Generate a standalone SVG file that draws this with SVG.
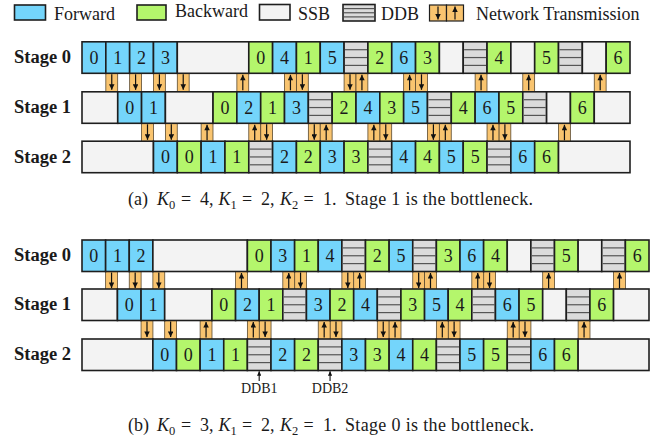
<svg xmlns="http://www.w3.org/2000/svg" xmlns:xlink="http://www.w3.org/1999/xlink" width="668" height="442" viewBox="0 0 668 442">
<style>
.f{fill:#74d5fb;stroke:#1e1e1e;stroke-width:1.6}
.b{fill:#b4f66c;stroke:#1e1e1e;stroke-width:1.6}
.s{fill:#f3f3f3;stroke:#1e1e1e;stroke-width:1.6}
.d{fill:#dbdbdb;stroke:#1e1e1e;stroke-width:1.6}
.dl{stroke:#555;stroke-width:1.2}
text{font-family:'Liberation Serif','Times New Roman','DejaVu Serif',serif}
.n{font-size:18px;text-anchor:middle;fill:#1a1a1a}
.lb{font-size:18.5px;font-weight:bold;fill:#1a1a1a}
.lg{font-size:18px;fill:#1a1a1a}
.cap{font-size:18px;fill:#1a1a1a}
.sm{font-size:14px;text-anchor:middle;fill:#1a1a1a}
.nt{fill:#f9c46f;stroke:#5a4a30;stroke-width:0.8}
.ar{stroke:#111;stroke-width:1.2;fill:none;marker-end:url(#ah)}
.ar2{stroke:#111;stroke-width:1.1;fill:none;marker-end:url(#ah2)}
</style>
<defs>
<marker id="ah" viewBox="0 0 10 10" refX="10" refY="5" markerWidth="6" markerHeight="5.5" markerUnits="userSpaceOnUse" orient="auto"><path d="M0,0 L10,5 L0,10 z" fill="#111"/></marker>
<marker id="ah2" viewBox="0 0 10 10" refX="10" refY="5" markerWidth="5" markerHeight="4.5" markerUnits="userSpaceOnUse" orient="auto"><path d="M0,0 L10,5 L0,10 z" fill="#111"/></marker>
<g id="dn"><rect class="nt" x="0" y="-0.5" width="11.86" height="19.5"/><line class="ar" x1="5.93" y1="1" x2="5.93" y2="16.5"/></g>
<g id="up"><rect class="nt" x="0" y="-0.5" width="11.86" height="19.5"/><line class="ar" x1="5.93" y1="17" x2="5.93" y2="1.5"/></g>
</defs>
<rect width="668" height="442" fill="#ffffff"/>

<!-- Legend -->
<g id="legend">
<rect class="f" x="14.5" y="5" width="31" height="15"/>
<text class="lg" x="54" y="20" font-family="Liberation Serif, serif">Forward</text>
<rect class="b" x="137" y="5" width="29" height="15"/>
<text class="lg" x="175" y="17">Backward</text>
<rect class="s" x="259.5" y="4.5" width="30.5" height="15.5"/>
<text class="lg" x="298" y="20">SSB</text>
<rect class="d" x="343" y="4.5" width="32" height="16.5"/>
<line class="dl" x1="344" y1="8.6" x2="374" y2="8.6"/>
<line class="dl" x1="344" y1="12.75" x2="374" y2="12.75"/>
<line class="dl" x1="344" y1="16.9" x2="374" y2="16.9"/>
<text class="lg" x="381" y="20">DDB</text>
<rect class="nt" x="429.5" y="5" width="17" height="16" style="stroke:#1e1e1e;stroke-width:1.2"/>
<rect class="nt" x="446.5" y="5" width="17" height="16" style="stroke:#1e1e1e;stroke-width:1.2"/>
<line class="ar" x1="438" y1="6.5" x2="438" y2="19.5"/>
<line class="ar" x1="455" y1="19.5" x2="455" y2="6.5"/>
<text class="lg" x="476" y="19.5">Network Transmission</text>
</g>

<!-- Connectors: network transmissions -->
<g id="connectors">
<use href="#dn" xlink:href="#dn" x="105.83" y="73.3"/>
<use href="#dn" xlink:href="#dn" x="129.65" y="73.3"/>
<use href="#dn" xlink:href="#dn" x="153.48" y="73.3"/>
<use href="#dn" xlink:href="#dn" x="177.30" y="73.3"/>
<use href="#dn" xlink:href="#dn" x="296.43" y="73.3"/>
<use href="#dn" xlink:href="#dn" x="344.09" y="73.3"/>
<use href="#dn" xlink:href="#dn" x="415.56" y="73.3"/>
<use href="#up" xlink:href="#up" x="236.87" y="73.3"/>
<use href="#up" xlink:href="#up" x="284.52" y="73.3"/>
<use href="#up" xlink:href="#up" x="356.00" y="73.3"/>
<use href="#up" xlink:href="#up" x="403.65" y="73.3"/>
<use href="#up" xlink:href="#up" x="475.13" y="73.3"/>
<use href="#up" xlink:href="#up" x="522.78" y="73.3"/>
<use href="#up" xlink:href="#up" x="594.26" y="73.3"/>
<use href="#dn" xlink:href="#dn" x="141.57" y="123.3"/>
<use href="#dn" xlink:href="#dn" x="165.39" y="123.3"/>
<use href="#dn" xlink:href="#dn" x="260.70" y="123.3"/>
<use href="#dn" xlink:href="#dn" x="308.35" y="123.3"/>
<use href="#dn" xlink:href="#dn" x="379.83" y="123.3"/>
<use href="#dn" xlink:href="#dn" x="427.48" y="123.3"/>
<use href="#dn" xlink:href="#dn" x="498.96" y="123.3"/>
<use href="#up" xlink:href="#up" x="201.13" y="123.3"/>
<use href="#up" xlink:href="#up" x="248.78" y="123.3"/>
<use href="#up" xlink:href="#up" x="320.26" y="123.3"/>
<use href="#up" xlink:href="#up" x="367.91" y="123.3"/>
<use href="#up" xlink:href="#up" x="439.39" y="123.3"/>
<use href="#up" xlink:href="#up" x="487.04" y="123.3"/>
<use href="#up" xlink:href="#up" x="558.52" y="123.3"/>
<use href="#dn" xlink:href="#dn" x="105.63" y="271.5"/>
<use href="#dn" xlink:href="#dn" x="129.25" y="271.5"/>
<use href="#dn" xlink:href="#dn" x="152.88" y="271.5"/>
<use href="#dn" xlink:href="#dn" x="294.63" y="271.5"/>
<use href="#dn" xlink:href="#dn" x="341.88" y="271.5"/>
<use href="#dn" xlink:href="#dn" x="412.75" y="271.5"/>
<use href="#dn" xlink:href="#dn" x="483.63" y="271.5"/>
<use href="#up" xlink:href="#up" x="235.56" y="271.5"/>
<use href="#up" xlink:href="#up" x="282.81" y="271.5"/>
<use href="#up" xlink:href="#up" x="353.69" y="271.5"/>
<use href="#up" xlink:href="#up" x="424.56" y="271.5"/>
<use href="#up" xlink:href="#up" x="471.81" y="271.5"/>
<use href="#up" xlink:href="#up" x="542.69" y="271.5"/>
<use href="#up" xlink:href="#up" x="613.56" y="271.5"/>
<use href="#dn" xlink:href="#dn" x="141.06" y="320.5"/>
<use href="#dn" xlink:href="#dn" x="164.69" y="320.5"/>
<use href="#dn" xlink:href="#dn" x="259.19" y="320.5"/>
<use href="#dn" xlink:href="#dn" x="330.06" y="320.5"/>
<use href="#dn" xlink:href="#dn" x="377.31" y="320.5"/>
<use href="#dn" xlink:href="#dn" x="448.19" y="320.5"/>
<use href="#dn" xlink:href="#dn" x="519.06" y="320.5"/>
<use href="#up" xlink:href="#up" x="200.13" y="320.5"/>
<use href="#up" xlink:href="#up" x="247.38" y="320.5"/>
<use href="#up" xlink:href="#up" x="318.25" y="320.5"/>
<use href="#up" xlink:href="#up" x="389.13" y="320.5"/>
<use href="#up" xlink:href="#up" x="436.38" y="320.5"/>
<use href="#up" xlink:href="#up" x="507.25" y="320.5"/>
<use href="#up" xlink:href="#up" x="578.13" y="320.5"/>
<line class="ar2" x1="259.19" y1="381" x2="259.19" y2="371.3"/>
<line class="ar2" x1="330.06" y1="381" x2="330.06" y2="371.3"/>
</g>

<text class="lb" x="14" y="63">Stage 0</text>
<text class="lb" x="14" y="113">Stage 1</text>
<text class="lb" x="14" y="162.5">Stage 2</text>

<g id="a-s0">
<g id="a0-1"><rect class="f" x="82" y="41.8" width="23.83" height="31.5"/><text class="n" x="93.91" y="63.8">0</text></g>
<g id="a0-2"><rect class="f" x="105.83" y="41.8" width="23.83" height="31.5"/><text class="n" x="117.74" y="63.8">1</text></g>
<g id="a0-3"><rect class="f" x="129.65" y="41.8" width="23.83" height="31.5"/><text class="n" x="141.57" y="63.8">2</text></g>
<g id="a0-4"><rect class="f" x="153.48" y="41.8" width="23.83" height="31.5"/><text class="n" x="165.39" y="63.8">3</text></g>
<g id="a0-5"><rect class="s" x="177.30" y="41.8" width="71.48" height="31.5"/></g>
<g id="a0-6"><rect class="b" x="248.78" y="41.8" width="23.83" height="31.5"/><text class="n" x="260.70" y="63.8">0</text></g>
<g id="a0-7"><rect class="f" x="272.61" y="41.8" width="23.83" height="31.5"/><text class="n" x="284.52" y="63.8">4</text></g>
<g id="a0-8"><rect class="b" x="296.43" y="41.8" width="23.83" height="31.5"/><text class="n" x="308.35" y="63.8">1</text></g>
<g id="a0-9"><rect class="f" x="320.26" y="41.8" width="23.83" height="31.5"/><text class="n" x="332.17" y="63.8">5</text></g>
<g id="a0-10"><rect class="d" x="344.09" y="41.8" width="23.83" height="31.5"/><line class="dl" x1="345" y1="49.7" x2="367" y2="49.7"/><line class="dl" x1="345" y1="57.55" x2="367" y2="57.55"/><line class="dl" x1="345" y1="65.4" x2="367" y2="65.4"/></g>
<g id="a0-11"><rect class="b" x="367.91" y="41.8" width="23.83" height="31.5"/><text class="n" x="379.83" y="63.8">2</text></g>
<g id="a0-12"><rect class="f" x="391.74" y="41.8" width="23.83" height="31.5"/><text class="n" x="403.65" y="63.8">6</text></g>
<g id="a0-13"><rect class="b" x="415.56" y="41.8" width="23.83" height="31.5"/><text class="n" x="427.48" y="63.8">3</text></g>
<g id="a0-14"><rect class="s" x="439.39" y="41.8" width="23.83" height="31.5"/></g>
<g id="a0-15"><rect class="d" x="463.22" y="41.8" width="23.83" height="31.5"/><line class="dl" x1="464.1" y1="49.7" x2="486.2" y2="49.7"/><line class="dl" x1="464.1" y1="57.55" x2="486.2" y2="57.55"/><line class="dl" x1="464.1" y1="65.4" x2="486.2" y2="65.4"/></g>
<g id="a0-16"><rect class="b" x="487.04" y="41.8" width="23.83" height="31.5"/><text class="n" x="498.96" y="63.8">4</text></g>
<g id="a0-17"><rect class="s" x="510.87" y="41.8" width="23.83" height="31.5"/></g>
<g id="a0-18"><rect class="b" x="534.69" y="41.8" width="23.83" height="31.5"/><text class="n" x="546.61" y="63.8">5</text></g>
<g id="a0-19"><rect class="d" x="558.52" y="41.8" width="23.83" height="31.5"/><line class="dl" x1="559.4" y1="49.7" x2="581.5" y2="49.7"/><line class="dl" x1="559.4" y1="57.55" x2="581.5" y2="57.55"/><line class="dl" x1="559.4" y1="65.4" x2="581.5" y2="65.4"/></g>
<g id="a0-20"><rect class="s" x="582.35" y="41.8" width="23.83" height="31.5"/></g>
<g id="a0-21"><rect class="b" x="606.17" y="41.8" width="23.83" height="31.5"/><text class="n" x="618.09" y="63.8">6</text></g>
</g>

<g id="a-s1">
<g id="a1-1"><rect class="s" x="82" y="91.8" width="35.74" height="31.5"/></g>
<g id="a1-2"><rect class="f" x="117.74" y="91.8" width="23.83" height="31.5"/><text class="n" x="129.65" y="113.8">0</text></g>
<g id="a1-3"><rect class="f" x="141.57" y="91.8" width="23.83" height="31.5"/><text class="n" x="153.48" y="113.8">1</text></g>
<g id="a1-4"><rect class="s" x="165.39" y="91.8" width="47.65" height="31.5"/></g>
<g id="a1-5"><rect class="b" x="213.04" y="91.8" width="23.83" height="31.5"/><text class="n" x="224.96" y="113.8">0</text></g>
<g id="a1-6"><rect class="f" x="236.87" y="91.8" width="23.83" height="31.5"/><text class="n" x="248.78" y="113.8">2</text></g>
<g id="a1-7"><rect class="b" x="260.70" y="91.8" width="23.83" height="31.5"/><text class="n" x="272.61" y="113.8">1</text></g>
<g id="a1-8"><rect class="f" x="284.52" y="91.8" width="23.83" height="31.5"/><text class="n" x="296.43" y="113.8">3</text></g>
<g id="a1-9"><rect class="d" x="308.35" y="91.8" width="23.83" height="31.5"/><line class="dl" x1="309.2" y1="99.7" x2="331.3" y2="99.7"/><line class="dl" x1="309.2" y1="107.55" x2="331.3" y2="107.55"/><line class="dl" x1="309.2" y1="115.4" x2="331.3" y2="115.4"/></g>
<g id="a1-10"><rect class="b" x="332.17" y="91.8" width="23.83" height="31.5"/><text class="n" x="344.09" y="113.8">2</text></g>
<g id="a1-11"><rect class="f" x="356.00" y="91.8" width="23.83" height="31.5"/><text class="n" x="367.91" y="113.8">4</text></g>
<g id="a1-12"><rect class="b" x="379.83" y="91.8" width="23.83" height="31.5"/><text class="n" x="391.74" y="113.8">3</text></g>
<g id="a1-13"><rect class="f" x="403.65" y="91.8" width="23.83" height="31.5"/><text class="n" x="415.56" y="113.8">5</text></g>
<g id="a1-14"><rect class="d" x="427.48" y="91.8" width="23.83" height="31.5"/><line class="dl" x1="428.4" y1="99.7" x2="450.4" y2="99.7"/><line class="dl" x1="428.4" y1="107.55" x2="450.4" y2="107.55"/><line class="dl" x1="428.4" y1="115.4" x2="450.4" y2="115.4"/></g>
<g id="a1-15"><rect class="b" x="451.30" y="91.8" width="23.83" height="31.5"/><text class="n" x="463.22" y="113.8">4</text></g>
<g id="a1-16"><rect class="f" x="475.13" y="91.8" width="23.83" height="31.5"/><text class="n" x="487.04" y="113.8">6</text></g>
<g id="a1-17"><rect class="b" x="498.96" y="91.8" width="23.83" height="31.5"/><text class="n" x="510.87" y="113.8">5</text></g>
<g id="a1-18"><rect class="d" x="522.78" y="91.8" width="23.83" height="31.5"/><line class="dl" x1="523.7" y1="99.7" x2="545.7" y2="99.7"/><line class="dl" x1="523.7" y1="107.55" x2="545.7" y2="107.55"/><line class="dl" x1="523.7" y1="115.4" x2="545.7" y2="115.4"/></g>
<g id="a1-19"><rect class="s" x="546.61" y="91.8" width="23.83" height="31.5"/></g>
<g id="a1-20"><rect class="b" x="570.43" y="91.8" width="23.83" height="31.5"/><text class="n" x="582.35" y="113.8">6</text></g>
<g id="a1-21"><rect class="s" x="594.26" y="91.8" width="35.74" height="31.5"/></g>
</g>

<g id="a-s2">
<g id="a2-1"><rect class="s" x="82" y="141.2" width="71.48" height="31.5"/></g>
<g id="a2-2"><rect class="f" x="153.48" y="141.2" width="23.83" height="31.5"/><text class="n" x="165.39" y="163.2">0</text></g>
<g id="a2-3"><rect class="b" x="177.30" y="141.2" width="23.83" height="31.5"/><text class="n" x="189.22" y="163.2">0</text></g>
<g id="a2-4"><rect class="f" x="201.13" y="141.2" width="23.83" height="31.5"/><text class="n" x="213.04" y="163.2">1</text></g>
<g id="a2-5"><rect class="b" x="224.96" y="141.2" width="23.83" height="31.5"/><text class="n" x="236.87" y="163.2">1</text></g>
<g id="a2-6"><rect class="d" x="248.78" y="141.2" width="23.83" height="31.5"/><line class="dl" x1="249.7" y1="149.1" x2="271.7" y2="149.1"/><line class="dl" x1="249.7" y1="156.95" x2="271.7" y2="156.95"/><line class="dl" x1="249.7" y1="164.8" x2="271.7" y2="164.8"/></g>
<g id="a2-7"><rect class="f" x="272.61" y="141.2" width="23.83" height="31.5"/><text class="n" x="284.52" y="163.2">2</text></g>
<g id="a2-8"><rect class="b" x="296.43" y="141.2" width="23.83" height="31.5"/><text class="n" x="308.35" y="163.2">2</text></g>
<g id="a2-9"><rect class="f" x="320.26" y="141.2" width="23.83" height="31.5"/><text class="n" x="332.17" y="163.2">3</text></g>
<g id="a2-10"><rect class="b" x="344.09" y="141.2" width="23.83" height="31.5"/><text class="n" x="356.00" y="163.2">3</text></g>
<g id="a2-11"><rect class="d" x="367.91" y="141.2" width="23.83" height="31.5"/><line class="dl" x1="368.8" y1="149.1" x2="390.9" y2="149.1"/><line class="dl" x1="368.8" y1="156.95" x2="390.9" y2="156.95"/><line class="dl" x1="368.8" y1="164.8" x2="390.9" y2="164.8"/></g>
<g id="a2-12"><rect class="f" x="391.74" y="141.2" width="23.83" height="31.5"/><text class="n" x="403.65" y="163.2">4</text></g>
<g id="a2-13"><rect class="b" x="415.56" y="141.2" width="23.83" height="31.5"/><text class="n" x="427.48" y="163.2">4</text></g>
<g id="a2-14"><rect class="f" x="439.39" y="141.2" width="23.83" height="31.5"/><text class="n" x="451.30" y="163.2">5</text></g>
<g id="a2-15"><rect class="b" x="463.22" y="141.2" width="23.83" height="31.5"/><text class="n" x="475.13" y="163.2">5</text></g>
<g id="a2-16"><rect class="d" x="487.04" y="141.2" width="23.83" height="31.5"/><line class="dl" x1="487.9" y1="149.1" x2="510" y2="149.1"/><line class="dl" x1="487.9" y1="156.95" x2="510" y2="156.95"/><line class="dl" x1="487.9" y1="164.8" x2="510" y2="164.8"/></g>
<g id="a2-17"><rect class="f" x="510.87" y="141.2" width="23.83" height="31.5"/><text class="n" x="522.78" y="163.2">6</text></g>
<g id="a2-18"><rect class="b" x="534.69" y="141.2" width="23.83" height="31.5"/><text class="n" x="546.61" y="163.2">6</text></g>
<g id="a2-19"><rect class="s" x="558.52" y="141.2" width="71.48" height="31.5"/></g>
</g>

<text class="cap" y="204.5"><tspan x="128">(a)</tspan><tspan x="157" font-style="italic">K</tspan><tspan font-size="12.5" dy="4">0</tspan><tspan x="181" dy="-4">=</tspan><tspan x="200">4,</tspan><tspan x="218.5" font-style="italic">K</tspan><tspan font-size="12.5" dy="4">1</tspan><tspan x="242" dy="-4">=</tspan><tspan x="261">2,</tspan><tspan x="280" font-style="italic">K</tspan><tspan font-size="12.5" dy="4">2</tspan><tspan x="303.5" dy="-4">=</tspan><tspan x="323">1.</tspan><tspan x="345" textLength="188" lengthAdjust="spacing">Stage 1 is the bottleneck.</tspan></text>

<text class="lb" x="14" y="261.2">Stage 0</text>
<text class="lb" x="14" y="310.2">Stage 1</text>
<text class="lb" x="14" y="360.2">Stage 2</text>

<g id="b-s0">
<g id="b0-1"><rect class="f" x="82" y="240" width="23.63" height="31.5"/><text class="n" x="93.81" y="262">0</text></g>
<g id="b0-2"><rect class="f" x="105.63" y="240" width="23.63" height="31.5"/><text class="n" x="117.44" y="262">1</text></g>
<g id="b0-3"><rect class="f" x="129.25" y="240" width="23.63" height="31.5"/><text class="n" x="141.06" y="262">2</text></g>
<g id="b0-4"><rect class="s" x="152.88" y="240" width="94.5" height="31.5"/></g>
<g id="b0-5"><rect class="b" x="247.38" y="240" width="23.63" height="31.5"/><text class="n" x="259.19" y="262">0</text></g>
<g id="b0-6"><rect class="f" x="271.00" y="240" width="23.63" height="31.5"/><text class="n" x="282.81" y="262">3</text></g>
<g id="b0-7"><rect class="b" x="294.63" y="240" width="23.63" height="31.5"/><text class="n" x="306.44" y="262">1</text></g>
<g id="b0-8"><rect class="f" x="318.25" y="240" width="23.63" height="31.5"/><text class="n" x="330.06" y="262">4</text></g>
<g id="b0-9"><rect class="d" x="341.88" y="240" width="23.63" height="31.5"/><line class="dl" x1="342.8" y1="247.9" x2="364.6" y2="247.9"/><line class="dl" x1="342.8" y1="255.75" x2="364.6" y2="255.75"/><line class="dl" x1="342.8" y1="263.6" x2="364.6" y2="263.6"/></g>
<g id="b0-10"><rect class="b" x="365.50" y="240" width="23.63" height="31.5"/><text class="n" x="377.31" y="262">2</text></g>
<g id="b0-11"><rect class="f" x="389.13" y="240" width="23.63" height="31.5"/><text class="n" x="400.94" y="262">5</text></g>
<g id="b0-12"><rect class="d" x="412.75" y="240" width="23.63" height="31.5"/><line class="dl" x1="413.6" y1="247.9" x2="435.5" y2="247.9"/><line class="dl" x1="413.6" y1="255.75" x2="435.5" y2="255.75"/><line class="dl" x1="413.6" y1="263.6" x2="435.5" y2="263.6"/></g>
<g id="b0-13"><rect class="b" x="436.38" y="240" width="23.63" height="31.5"/><text class="n" x="448.19" y="262">3</text></g>
<g id="b0-14"><rect class="f" x="460.00" y="240" width="23.63" height="31.5"/><text class="n" x="471.81" y="262">6</text></g>
<g id="b0-15"><rect class="b" x="483.63" y="240" width="23.63" height="31.5"/><text class="n" x="495.44" y="262">4</text></g>
<g id="b0-16"><rect class="s" x="507.25" y="240" width="23.63" height="31.5"/></g>
<g id="b0-17"><rect class="d" x="530.88" y="240" width="23.63" height="31.5"/><line class="dl" x1="531.8" y1="247.9" x2="553.6" y2="247.9"/><line class="dl" x1="531.8" y1="255.75" x2="553.6" y2="255.75"/><line class="dl" x1="531.8" y1="263.6" x2="553.6" y2="263.6"/></g>
<g id="b0-18"><rect class="b" x="554.50" y="240" width="23.63" height="31.5"/><text class="n" x="566.31" y="262">5</text></g>
<g id="b0-19"><rect class="s" x="578.13" y="240" width="23.63" height="31.5"/></g>
<g id="b0-20"><rect class="d" x="601.75" y="240" width="23.63" height="31.5"/><line class="dl" x1="602.6" y1="247.9" x2="624.5" y2="247.9"/><line class="dl" x1="602.6" y1="255.75" x2="624.5" y2="255.75"/><line class="dl" x1="602.6" y1="263.6" x2="624.5" y2="263.6"/></g>
<g id="b0-21"><rect class="b" x="625.38" y="240" width="23.63" height="31.5"/><text class="n" x="637.19" y="262">6</text></g>
</g>

<g id="b-s1">
<g id="b1-1"><rect class="s" x="82" y="289" width="35.44" height="31.5"/></g>
<g id="b1-2"><rect class="f" x="117.44" y="289" width="23.63" height="31.5"/><text class="n" x="129.25" y="311">0</text></g>
<g id="b1-3"><rect class="f" x="141.06" y="289" width="23.63" height="31.5"/><text class="n" x="152.88" y="311">1</text></g>
<g id="b1-4"><rect class="s" x="164.69" y="289" width="47.25" height="31.5"/></g>
<g id="b1-5"><rect class="b" x="211.94" y="289" width="23.63" height="31.5"/><text class="n" x="223.75" y="311">0</text></g>
<g id="b1-6"><rect class="f" x="235.56" y="289" width="23.63" height="31.5"/><text class="n" x="247.38" y="311">2</text></g>
<g id="b1-7"><rect class="b" x="259.19" y="289" width="23.63" height="31.5"/><text class="n" x="271.00" y="311">1</text></g>
<g id="b1-8"><rect class="d" x="282.81" y="289" width="23.63" height="31.5"/><line class="dl" x1="283.7" y1="296.9" x2="305.5" y2="296.9"/><line class="dl" x1="283.7" y1="304.75" x2="305.5" y2="304.75"/><line class="dl" x1="283.7" y1="312.6" x2="305.5" y2="312.6"/></g>
<g id="b1-9"><rect class="f" x="306.44" y="289" width="23.63" height="31.5"/><text class="n" x="318.25" y="311">3</text></g>
<g id="b1-10"><rect class="b" x="330.06" y="289" width="23.63" height="31.5"/><text class="n" x="341.88" y="311">2</text></g>
<g id="b1-11"><rect class="f" x="353.69" y="289" width="23.63" height="31.5"/><text class="n" x="365.50" y="311">4</text></g>
<g id="b1-12"><rect class="d" x="377.31" y="289" width="23.63" height="31.5"/><line class="dl" x1="378.2" y1="296.9" x2="400" y2="296.9"/><line class="dl" x1="378.2" y1="304.75" x2="400" y2="304.75"/><line class="dl" x1="378.2" y1="312.6" x2="400" y2="312.6"/></g>
<g id="b1-13"><rect class="b" x="400.94" y="289" width="23.63" height="31.5"/><text class="n" x="412.75" y="311">3</text></g>
<g id="b1-14"><rect class="f" x="424.56" y="289" width="23.63" height="31.5"/><text class="n" x="436.38" y="311">5</text></g>
<g id="b1-15"><rect class="b" x="448.19" y="289" width="23.63" height="31.5"/><text class="n" x="460.00" y="311">4</text></g>
<g id="b1-16"><rect class="d" x="471.81" y="289" width="23.63" height="31.5"/><line class="dl" x1="472.7" y1="296.9" x2="494.5" y2="296.9"/><line class="dl" x1="472.7" y1="304.75" x2="494.5" y2="304.75"/><line class="dl" x1="472.7" y1="312.6" x2="494.5" y2="312.6"/></g>
<g id="b1-17"><rect class="f" x="495.44" y="289" width="23.63" height="31.5"/><text class="n" x="507.25" y="311">6</text></g>
<g id="b1-18"><rect class="b" x="519.06" y="289" width="23.63" height="31.5"/><text class="n" x="530.88" y="311">5</text></g>
<g id="b1-19"><rect class="s" x="542.69" y="289" width="23.63" height="31.5"/></g>
<g id="b1-20"><rect class="d" x="566.31" y="289" width="23.63" height="31.5"/><line class="dl" x1="567.2" y1="296.9" x2="589" y2="296.9"/><line class="dl" x1="567.2" y1="304.75" x2="589" y2="304.75"/><line class="dl" x1="567.2" y1="312.6" x2="589" y2="312.6"/></g>
<g id="b1-21"><rect class="b" x="589.94" y="289" width="23.63" height="31.5"/><text class="n" x="601.75" y="311">6</text></g>
<g id="b1-22"><rect class="s" x="613.56" y="289" width="35.44" height="31.5"/></g>
</g>

<g id="b-s2">
<g id="b2-1"><rect class="s" x="82" y="339" width="70.88" height="31.5"/></g>
<g id="b2-2"><rect class="f" x="152.88" y="339" width="23.63" height="31.5"/><text class="n" x="164.69" y="361">0</text></g>
<g id="b2-3"><rect class="b" x="176.50" y="339" width="23.63" height="31.5"/><text class="n" x="188.31" y="361">0</text></g>
<g id="b2-4"><rect class="f" x="200.13" y="339" width="23.63" height="31.5"/><text class="n" x="211.94" y="361">1</text></g>
<g id="b2-5"><rect class="b" x="223.75" y="339" width="23.63" height="31.5"/><text class="n" x="235.56" y="361">1</text></g>
<g id="b2-6"><rect class="d" x="247.38" y="339" width="23.63" height="31.5"/><line class="dl" x1="248.2" y1="346.9" x2="270.1" y2="346.9"/><line class="dl" x1="248.2" y1="354.75" x2="270.1" y2="354.75"/><line class="dl" x1="248.2" y1="362.6" x2="270.1" y2="362.6"/></g>
<g id="b2-7"><rect class="f" x="271.00" y="339" width="23.63" height="31.5"/><text class="n" x="282.81" y="361">2</text></g>
<g id="b2-8"><rect class="b" x="294.63" y="339" width="23.63" height="31.5"/><text class="n" x="306.44" y="361">2</text></g>
<g id="b2-9"><rect class="d" x="318.25" y="339" width="23.63" height="31.5"/><line class="dl" x1="319.1" y1="346.9" x2="341" y2="346.9"/><line class="dl" x1="319.1" y1="354.75" x2="341" y2="354.75"/><line class="dl" x1="319.1" y1="362.6" x2="341" y2="362.6"/></g>
<g id="b2-10"><rect class="f" x="341.88" y="339" width="23.63" height="31.5"/><text class="n" x="353.69" y="361">3</text></g>
<g id="b2-11"><rect class="b" x="365.50" y="339" width="23.63" height="31.5"/><text class="n" x="377.31" y="361">3</text></g>
<g id="b2-12"><rect class="f" x="389.13" y="339" width="23.63" height="31.5"/><text class="n" x="400.94" y="361">4</text></g>
<g id="b2-13"><rect class="b" x="412.75" y="339" width="23.63" height="31.5"/><text class="n" x="424.56" y="361">4</text></g>
<g id="b2-14"><rect class="d" x="436.38" y="339" width="23.63" height="31.5"/><line class="dl" x1="437.2" y1="346.9" x2="459.1" y2="346.9"/><line class="dl" x1="437.2" y1="354.75" x2="459.1" y2="354.75"/><line class="dl" x1="437.2" y1="362.6" x2="459.1" y2="362.6"/></g>
<g id="b2-15"><rect class="f" x="460.00" y="339" width="23.63" height="31.5"/><text class="n" x="471.81" y="361">5</text></g>
<g id="b2-16"><rect class="b" x="483.63" y="339" width="23.63" height="31.5"/><text class="n" x="495.44" y="361">5</text></g>
<g id="b2-17"><rect class="d" x="507.25" y="339" width="23.63" height="31.5"/><line class="dl" x1="508.1" y1="346.9" x2="530" y2="346.9"/><line class="dl" x1="508.1" y1="354.75" x2="530" y2="354.75"/><line class="dl" x1="508.1" y1="362.6" x2="530" y2="362.6"/></g>
<g id="b2-18"><rect class="f" x="530.88" y="339" width="23.63" height="31.5"/><text class="n" x="542.69" y="361">6</text></g>
<g id="b2-19"><rect class="b" x="554.50" y="339" width="23.63" height="31.5"/><text class="n" x="566.31" y="361">6</text></g>
<g id="b2-20"><rect class="s" x="578.13" y="339" width="70.88" height="31.5"/></g>
</g>

<text class="sm" x="259.19" y="393">DDB1</text>
<text class="sm" x="330.06" y="393">DDB2</text>

<text class="cap" y="430.7"><tspan x="128">(b)</tspan><tspan x="157" font-style="italic">K</tspan><tspan font-size="12.5" dy="4">0</tspan><tspan x="181" dy="-4">=</tspan><tspan x="200">3,</tspan><tspan x="218.5" font-style="italic">K</tspan><tspan font-size="12.5" dy="4">1</tspan><tspan x="242" dy="-4">=</tspan><tspan x="261">2,</tspan><tspan x="280" font-style="italic">K</tspan><tspan font-size="12.5" dy="4">2</tspan><tspan x="303.5" dy="-4">=</tspan><tspan x="323">1.</tspan><tspan x="345" textLength="189" lengthAdjust="spacing">Stage 0 is the bottleneck.</tspan></text>
</svg>
